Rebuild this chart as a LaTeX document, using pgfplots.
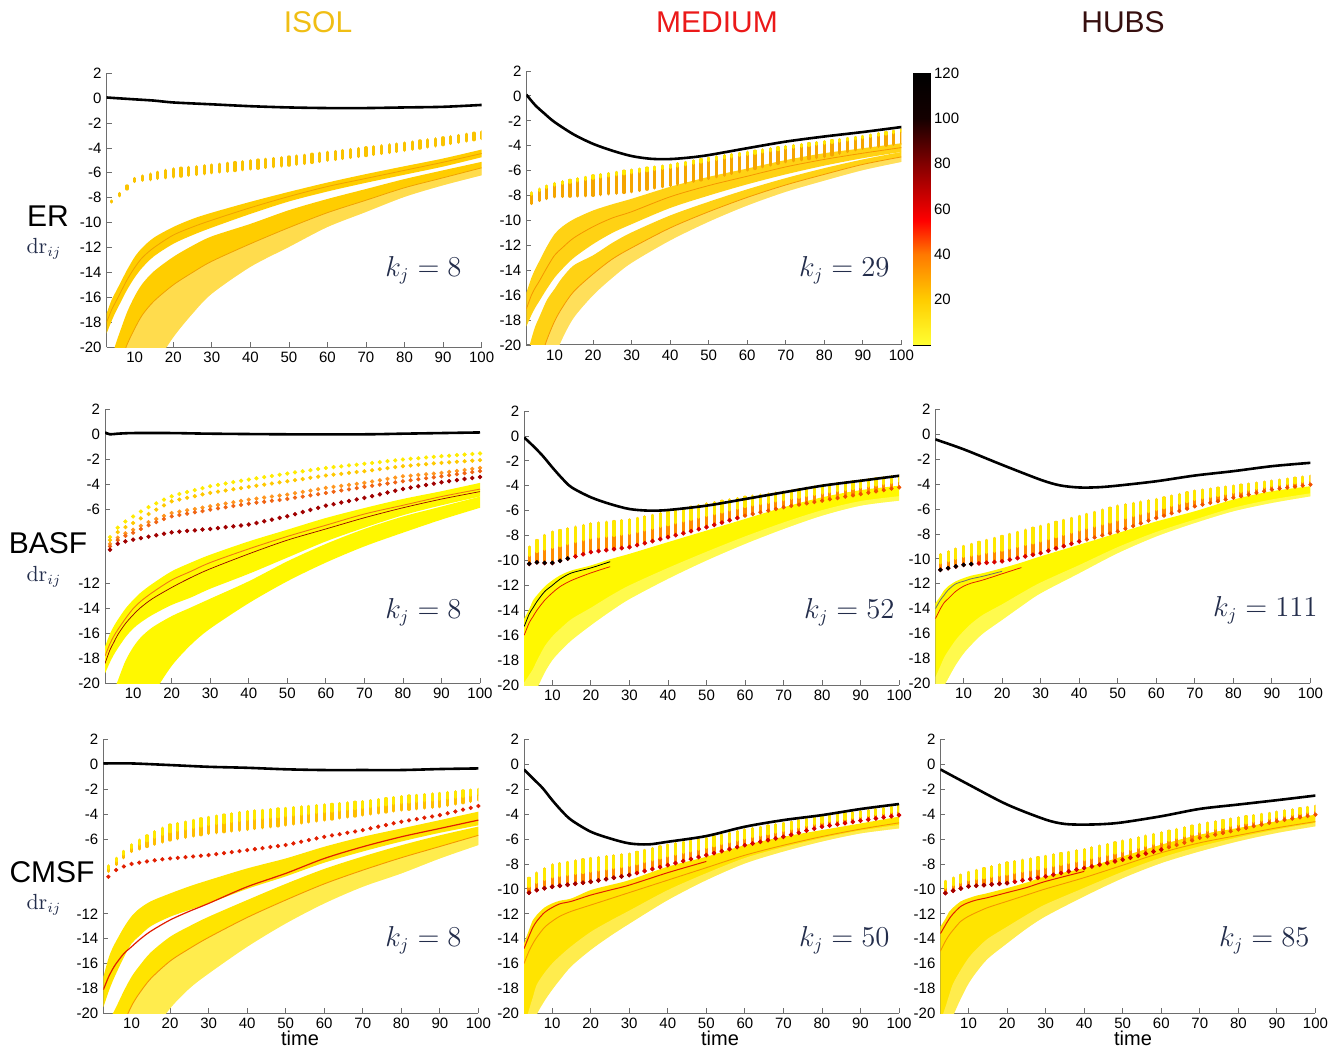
\documentclass[border=0pt]{standalone}
\usepackage[no-math]{fontspec}
\setmainfont{Liberation Sans}
\usepackage{pgfplots}
\pgfplotsset{compat=1.18}
\usepackage{pgfplotstable}
\usepgfplotslibrary{fillbetween}

\definecolor{ttlIsol}{RGB}{240,190,20}
\definecolor{ttlMed}{RGB}{235,25,25}
\definecolor{ttlHubs}{RGB}{55,15,15}
\definecolor{navy}{RGB}{35,45,75}
\definecolor{axgray}{RGB}{110,110,110}
\definecolor{bandA}{RGB}{255,205,0}
\definecolor{lineA}{RGB}{240,160,0}
\definecolor{bandB}{RGB}{255,210,20}
\definecolor{lineB}{RGB}{245,150,0}
\definecolor{bandY}{RGB}{255,248,0}
\definecolor{bandD}{RGB}{255,228,0}
\definecolor{cOr}{RGB}{240,120,20}
\definecolor{cDk}{RGB}{150,0,0}
\definecolor{cRed}{RGB}{225,30,0}
\definecolor{cOr2}{RGB}{245,150,0}
\definecolor{dotA}{RGB}{250,195,0}
\definecolor{dotB}{RGB}{245,165,0}
\definecolor{dotY}{RGB}{255,232,0}
\definecolor{dotO}{RGB}{255,140,0}
\definecolor{dotR}{RGB}{215,0,0}
\definecolor{dotOR}{RGB}{240,80,0}
\definecolor{s1}{RGB}{255,235,0}
\definecolor{s2}{RGB}{255,200,0}
\definecolor{s3}{RGB}{255,150,30}
\definecolor{s4}{RGB}{240,100,20}
\definecolor{s5}{RGB}{160,0,0}
\definecolor{dGold}{RGB}{255,190,0}

\pgfplotsset{
  colormap={hotr}{rgb255(0cm)=(255,255,50) rgb255(2cm)=(255,205,0) rgb255(4cm)=(255,120,0) rgb255(5.5cm)=(255,0,0) rgb255(8cm)=(130,0,0) rgb255(10cm)=(20,0,0) rgb255(12cm)=(0,0,0)},
  pan/.style={scale only axis, width=187.5pt, height=137pt, anchor=south west,
    xmin=2.7, xmax=100, ymin=-20, ymax=2,
    axis x line*=bottom, axis y line*=left,
    axis line style={axgray, line width=0.5pt},
    xtick={10,20,...,100}, ytick={-20,-18,...,2},
    tick align=inside, major tick length=2.5pt,
    tick style={axgray, line width=0.4pt},
    tick label style={font=\fontsize{7.5}{8}\selectfont, black},
    /pgf/number format/assume math mode=true,
    xticklabel style={yshift=1pt}, yticklabel style={xshift=1pt}},
}

\newcommand\myBand[6]{%
  \addplot[name path=#1T, draw=none, smooth, forget plot] table[x=x,y=#3]{#2};
  \addplot[name path=#1B, draw=none, smooth, forget plot] table[x=x,y=#4]{#2};
  \addplot[fill=#5, fill opacity=#6, draw=none, forget plot] fill between[of=#1T and #1B];
}
\newcommand\myLine[4]{\addplot[draw=#3, line width=#4, smooth, forget plot] table[x=x,y=#2]{#1};}
\newcommand\myCols[3]{%
  \addplot[draw=none, mark=none, forget plot, error bars/y dir=minus, error bars/y explicit,
    error bars/error mark=none, error bars/error bar style={draw=#2, solid, line width=1.6pt, line cap=round}]
    table[x=x, y=t, y error minus expr={#3*(\thisrow{t}-\thisrow{b})}]{#1};
}
\newcommand\myKj[3]{\node[anchor=east, inner sep=0pt, text=navy, font=\fontsize{13.5}{14}\selectfont] at (#1pt,#2pt) {$k_j = #3$};}

% ---------------- dotted series ----------------
\pgfplotstableread{
x t b
4 -8.25 -8.35
6 -7.65 -7.85
8 -7.05 -7.3
10 -6.45 -6.7
12 -6.25 -6.6
14 -6.1 -6.55
16 -5.95 -6.45
18 -5.8 -6.4
20 -5.68 -6.33
22 -5.62 -6.27
24 -5.56 -6.2
26 -5.5 -6.14
28 -5.43 -6.07
30 -5.36 -6.0
32 -5.3 -5.94
34 -5.23 -5.88
36 -5.17 -5.82
38 -5.1 -5.76
40 -5.03 -5.7
42 -4.97 -5.64
44 -4.91 -5.58
46 -4.84 -5.51
48 -4.78 -5.45
50 -4.72 -5.39
52 -4.65 -5.32
54 -4.58 -5.25
56 -4.5 -5.17
58 -4.43 -5.09
60 -4.35 -5.0
62 -4.28 -4.93
64 -4.2 -4.86
66 -4.13 -4.78
68 -4.05 -4.7
70 -3.98 -4.62
72 -3.9 -4.54
74 -3.83 -4.46
76 -3.75 -4.38
78 -3.68 -4.29
80 -3.6 -4.2
82 -3.52 -4.11
84 -3.43 -4.02
86 -3.35 -3.93
88 -3.27 -3.84
90 -3.18 -3.75
92 -3.09 -3.65
94 -3.0 -3.55
96 -2.9 -3.45
98 -2.81 -3.35
100 -2.71 -3.25
}\tabDA

\pgfplotstableread{
x t b
4 -7.8 -8.65
6 -7.5 -8.4
8 -7.25 -8.25
10 -7.04 -8.1
12 -6.9 -8.08
14 -6.78 -8.06
16 -6.66 -8.04
18 -6.54 -8.02
20 -6.42 -7.99
22 -6.33 -7.93
24 -6.24 -7.87
26 -6.14 -7.82
28 -6.05 -7.76
30 -5.96 -7.7
32 -5.88 -7.6
34 -5.8 -7.5
36 -5.72 -7.4
38 -5.64 -7.3
40 -5.56 -7.2
42 -5.45 -7.09
44 -5.34 -6.98
46 -5.22 -6.86
48 -5.11 -6.75
50 -5.0 -6.64
52 -4.91 -6.5
54 -4.81 -6.37
56 -4.72 -6.23
58 -4.62 -6.1
60 -4.53 -5.96
62 -4.44 -5.83
64 -4.35 -5.69
66 -4.25 -5.56
68 -4.16 -5.42
70 -4.07 -5.29
72 -3.99 -5.21
74 -3.91 -5.13
76 -3.83 -5.04
78 -3.75 -4.96
80 -3.67 -4.88
82 -3.59 -4.74
84 -3.51 -4.6
86 -3.42 -4.47
88 -3.34 -4.33
90 -3.26 -4.2
92 -3.15 -4.12
94 -3.04 -4.04
96 -2.94 -3.96
98 -2.83 -3.88
100 -2.72 -3.8
}\tabDB

\pgfplotstableread{
x s1 s2 s3 s4 s5
4 -8.25 -8.5 -8.8 -9.0 -9.27
6 -7.5 -7.85 -8.3 -8.5 -8.79
8 -7.0 -7.45 -7.95 -8.15 -8.6
10 -6.6 -7.12 -7.66 -7.9 -8.46
12 -6.2 -6.75 -7.35 -7.6 -8.34
14 -5.85 -6.4 -7.05 -7.3 -8.22
16 -5.55 -6.05 -6.8 -7.05 -8.1
18 -5.25 -5.7 -6.55 -6.8 -7.98
20 -4.98 -5.38 -6.32 -6.59 -7.87
22 -4.8 -5.24 -6.21 -6.48 -7.82
24 -4.64 -5.1 -6.1 -6.37 -7.76
26 -4.48 -4.97 -6.0 -6.26 -7.71
28 -4.32 -4.83 -5.89 -6.16 -7.65
30 -4.17 -4.7 -5.78 -6.05 -7.6
32 -4.06 -4.6 -5.67 -5.95 -7.53
34 -3.95 -4.51 -5.56 -5.86 -7.46
36 -3.84 -4.41 -5.46 -5.76 -7.39
38 -3.73 -4.32 -5.35 -5.67 -7.32
40 -3.63 -4.22 -5.24 -5.57 -7.25
42 -3.53 -4.13 -5.16 -5.49 -7.12
44 -3.44 -4.04 -5.08 -5.42 -6.98
46 -3.34 -3.95 -5.0 -5.34 -6.85
48 -3.25 -3.86 -4.92 -5.27 -6.71
50 -3.15 -3.77 -4.84 -5.19 -6.58
52 -3.06 -3.68 -4.73 -5.09 -6.41
54 -2.97 -3.59 -4.62 -5.0 -6.24
56 -2.88 -3.49 -4.52 -4.9 -6.07
58 -2.79 -3.4 -4.41 -4.81 -5.9
60 -2.7 -3.31 -4.3 -4.71 -5.73
62 -2.63 -3.24 -4.22 -4.61 -5.61
64 -2.57 -3.17 -4.14 -4.51 -5.48
66 -2.5 -3.1 -4.06 -4.42 -5.36
68 -2.44 -3.03 -3.98 -4.32 -5.23
70 -2.37 -2.96 -3.9 -4.22 -5.11
72 -2.3 -2.88 -3.79 -4.13 -4.97
74 -2.23 -2.8 -3.69 -4.04 -4.82
76 -2.16 -2.72 -3.58 -3.95 -4.68
78 -2.09 -2.64 -3.48 -3.86 -4.53
80 -2.02 -2.56 -3.37 -3.77 -4.39
82 -1.97 -2.51 -3.32 -3.69 -4.28
84 -1.92 -2.45 -3.26 -3.61 -4.17
86 -1.86 -2.4 -3.21 -3.53 -4.07
88 -1.81 -2.34 -3.15 -3.45 -3.96
90 -1.76 -2.29 -3.1 -3.37 -3.85
92 -1.72 -2.25 -3.02 -3.29 -3.76
94 -1.67 -2.21 -2.94 -3.21 -3.68
96 -1.63 -2.16 -2.86 -3.12 -3.59
98 -1.58 -2.12 -2.78 -3.04 -3.51
100 -1.54 -2.08 -2.7 -2.96 -3.42
}\tabDC

\pgfplotstableread{
x t b r
4 -8.17 -8.6 -9.03
6 -7.55 -8.05 -8.49
8 -7.0 -7.5 -8.2
10 -6.48 -7.0 -8.0
12 -6.1 -6.8 -7.9
14 -5.75 -6.6 -7.8
16 -5.42 -6.42 -7.71
18 -5.14 -6.25 -7.63
20 -4.88 -6.08 -7.56
22 -4.76 -5.97 -7.51
24 -4.64 -5.87 -7.45
26 -4.51 -5.76 -7.4
28 -4.38 -5.66 -7.34
30 -4.26 -5.55 -7.29
32 -4.17 -5.49 -7.21
34 -4.08 -5.42 -7.13
36 -3.98 -5.36 -7.05
38 -3.89 -5.29 -6.97
40 -3.8 -5.23 -6.89
42 -3.75 -5.16 -6.81
44 -3.7 -5.09 -6.73
46 -3.64 -5.02 -6.64
48 -3.59 -4.95 -6.56
50 -3.54 -4.88 -6.48
52 -3.49 -4.8 -6.35
54 -3.43 -4.72 -6.21
56 -3.38 -4.64 -6.08
58 -3.32 -4.56 -5.95
60 -3.27 -4.48 -5.82
62 -3.22 -4.4 -5.71
64 -3.16 -4.32 -5.61
66 -3.11 -4.24 -5.5
68 -3.05 -4.16 -5.39
70 -3.0 -4.08 -5.28
72 -2.92 -4.0 -5.15
74 -2.84 -3.92 -5.01
76 -2.76 -3.83 -4.88
78 -2.68 -3.75 -4.74
80 -2.6 -3.67 -4.61
82 -2.55 -3.62 -4.5
84 -2.5 -3.57 -4.4
86 -2.44 -3.51 -4.29
88 -2.39 -3.46 -4.19
90 -2.34 -3.41 -4.08
92 -2.27 -3.3 -3.93
94 -2.21 -3.19 -3.79
96 -2.14 -3.09 -3.64
98 -2.08 -2.98 -3.5
100 -2.01 -2.87 -3.35
}\tabDD

\pgfplotstableread{
x t b
4 -8.93 -10.27
6 -8.4 -10.15
8 -8.0 -10.2
10 -7.73 -10.2
12 -7.6 -10.03
14 -7.47 -9.85
16 -7.34 -9.68
18 -7.2 -9.5
20 -7.07 -9.33
22 -7.0 -9.25
24 -6.94 -9.17
26 -6.88 -9.09
28 -6.81 -9.01
30 -6.75 -8.93
32 -6.63 -8.77
34 -6.5 -8.61
36 -6.38 -8.45
38 -6.25 -8.29
40 -6.13 -8.13
42 -6.0 -7.97
44 -5.86 -7.81
46 -5.73 -7.65
48 -5.6 -7.49
50 -5.47 -7.33
52 -5.36 -7.14
54 -5.25 -6.96
56 -5.15 -6.77
58 -5.04 -6.59
60 -4.93 -6.4
62 -4.85 -6.27
64 -4.77 -6.13
66 -4.69 -6.0
68 -4.61 -5.86
70 -4.53 -5.73
72 -4.42 -5.62
74 -4.32 -5.52
76 -4.21 -5.41
78 -4.11 -5.31
80 -4.0 -5.2
82 -3.92 -5.09
84 -3.84 -4.99
86 -3.76 -4.88
88 -3.68 -4.78
90 -3.6 -4.67
92 -3.52 -4.56
94 -3.44 -4.45
96 -3.36 -4.35
98 -3.28 -4.24
100 -3.2 -4.13
}\tabDE

\pgfplotstableread{
x t b
4 -9.67 -10.88
6 -9.45 -10.75
8 -9.22 -10.61
10 -9.0 -10.48
12 -8.84 -10.42
14 -8.68 -10.37
16 -8.52 -10.31
18 -8.36 -10.26
20 -8.2 -10.2
22 -8.04 -10.07
24 -7.88 -9.94
26 -7.71 -9.8
28 -7.55 -9.67
30 -7.39 -9.54
32 -7.23 -9.35
34 -7.07 -9.16
36 -6.91 -8.98
38 -6.75 -8.79
40 -6.59 -8.6
42 -6.43 -8.44
44 -6.27 -8.28
46 -6.1 -8.11
48 -5.94 -7.95
50 -5.78 -7.79
52 -5.67 -7.58
54 -5.56 -7.36
56 -5.46 -7.15
58 -5.35 -6.93
60 -5.24 -6.72
62 -5.11 -6.53
64 -4.97 -6.34
66 -4.84 -6.16
68 -4.7 -5.97
70 -4.57 -5.78
72 -4.49 -5.64
74 -4.41 -5.51
76 -4.33 -5.37
78 -4.25 -5.24
80 -4.17 -5.1
82 -4.09 -4.97
84 -4.01 -4.84
86 -3.93 -4.7
88 -3.85 -4.57
90 -3.77 -4.44
92 -3.69 -4.36
94 -3.61 -4.28
96 -3.53 -4.2
98 -3.45 -4.12
100 -3.37 -4.04
}\tabDF

\pgfplotstableread{
x t b
4 -9.16 -10.31
6 -8.75 -10.1
8 -8.4 -9.95
10 -8.09 -9.83
12 -7.98 -9.75
14 -7.88 -9.67
16 -7.77 -9.59
18 -7.67 -9.51
20 -7.56 -9.43
22 -7.49 -9.32
24 -7.42 -9.22
26 -7.35 -9.11
28 -7.28 -9.0
30 -7.21 -8.89
32 -7.07 -8.73
34 -6.92 -8.57
36 -6.78 -8.41
38 -6.63 -8.25
40 -6.49 -8.09
42 -6.38 -7.93
44 -6.27 -7.77
46 -6.17 -7.61
48 -6.06 -7.45
50 -5.95 -7.29
52 -5.82 -7.13
54 -5.68 -6.97
56 -5.55 -6.81
58 -5.41 -6.65
60 -5.28 -6.49
62 -5.17 -6.36
64 -5.07 -6.22
66 -4.96 -6.09
68 -4.86 -5.95
70 -4.75 -5.82
72 -4.64 -5.66
74 -4.53 -5.5
76 -4.43 -5.33
78 -4.32 -5.17
80 -4.21 -5.01
82 -4.13 -4.91
84 -4.05 -4.82
86 -3.97 -4.72
88 -3.89 -4.63
90 -3.81 -4.53
92 -3.72 -4.44
94 -3.63 -4.35
96 -3.53 -4.26
98 -3.44 -4.17
100 -3.35 -4.08
}\tabDG

\pgfplotstableread{
x t b
4 -9.4 -10.34
6 -9.15 -10.15
8 -8.9 -9.97
10 -8.68 -9.8
12 -8.53 -9.75
14 -8.38 -9.7
16 -8.23 -9.64
18 -8.08 -9.59
20 -7.93 -9.54
22 -7.82 -9.43
24 -7.71 -9.32
26 -7.61 -9.22
28 -7.5 -9.11
30 -7.39 -9.0
32 -7.28 -8.87
34 -7.17 -8.73
36 -7.07 -8.6
38 -6.96 -8.46
40 -6.85 -8.33
42 -6.72 -8.2
44 -6.58 -8.06
46 -6.45 -7.93
48 -6.31 -7.79
50 -6.18 -7.66
52 -6.05 -7.5
54 -5.91 -7.34
56 -5.78 -7.17
58 -5.64 -7.01
60 -5.51 -6.85
62 -5.38 -6.66
64 -5.24 -6.48
66 -5.11 -6.29
68 -4.97 -6.11
70 -4.84 -5.91
72 -4.73 -5.78
74 -4.62 -5.65
76 -4.52 -5.51
78 -4.41 -5.38
80 -4.3 -5.24
82 -4.21 -5.11
84 -4.12 -4.97
86 -4.03 -4.84
88 -3.94 -4.7
90 -3.85 -4.57
92 -3.75 -4.46
94 -3.66 -4.36
96 -3.56 -4.25
98 -3.47 -4.15
100 -3.37 -4.04
}\tabDH

% ---------------- bands of curves ----------------
\pgfplotstableread{
x ut ub lt lb m1 m2
2.7 -17.3 -18.9 -23 -32 -18.0 -25
4 -16.2 -17.9 -21 -31 -17.0 -23.5
5 -15.6 -17.2 -19.8 -30 -16.4 -22.4
6 -15.0 -16.6 -18.9 -29 -15.8 -21.5
8 -13.8 -15.4 -17.2 -27 -14.6 -19.8
10 -12.75 -14.4 -15.9 -25 -13.6 -18.5
12 -12.0 -13.6 -14.9 -23.5 -12.8 -17.4
15 -11.2 -12.7 -13.9 -21.6 -12.0 -16.3
20 -10.35 -11.7 -12.75 -19.2 -11.0 -15.0
25 -9.7 -11.0 -11.85 -17.3 -10.35 -14.0
30 -9.2 -10.4 -11.1 -15.7 -9.8 -13.1
40 -8.33 -9.3 -10.1 -13.55 -8.8 -11.7
50 -7.53 -8.3 -9.0 -11.95 -7.9 -10.4
60 -6.78 -7.5 -8.1 -10.35 -7.1 -9.2
70 -6.1 -6.8 -7.3 -9.14 -6.45 -8.2
80 -5.47 -6.15 -6.5 -7.93 -5.8 -7.2
90 -4.85 -5.5 -5.8 -7.0 -5.15 -6.4
100 -4.13 -4.75 -5.12 -6.2 -4.45 -5.6
}\tabBA

\pgfplotstableread{
x ut ub lt lb m1 m2
2.7 -15.8 -18.5 -21 -28.5 -17.1 -25
4 -14.6 -17.6 -19.5 -27 -16.0 -23.5
5 -13.9 -17.0 -18.5 -26 -15.4 -22.5
6 -13.3 -16.5 -17.8 -24.8 -14.9 -21.5
8 -12.1 -15.5 -16.4 -22.8 -13.8 -19.6
10 -11.1 -14.6 -15.5 -21 -12.8 -18.1
12 -10.5 -13.9 -14.6 -19.5 -12.2 -17.0
15 -9.9 -13.0 -13.6 -17.8 -11.4 -15.7
20 -9.2 -11.9 -12.8 -16.0 -10.5 -14.3
25 -8.7 -11.0 -11.8 -14.6 -9.8 -13.1
30 -8.26 -10.3 -10.96 -13.4 -9.3 -12.2
40 -7.3 -9.0 -9.6 -11.6 -8.1 -10.6
50 -6.5 -8.0 -8.5 -10.1 -7.2 -9.3
60 -5.83 -7.1 -7.5 -8.8 -6.45 -8.15
70 -5.15 -6.3 -6.6 -7.7 -5.7 -7.15
80 -4.6 -5.6 -5.8 -6.8 -5.1 -6.3
90 -4.2 -5.0 -5.1 -5.96 -4.6 -5.5
100 -3.8 -4.5 -4.5 -5.3 -4.15 -4.9
}\tabBB

\pgfplotstableread{
x ut ub lt lb m1 m2
2.7 -17.05 -19.2 -24 -31 -17.8 -18.4
4 -16.0 -18.3 -22 -30 -16.8 -17.3
5 -15.4 -17.7 -20.6 -29 -16.2 -16.7
6 -14.9 -17.2 -19.8 -28 -15.7 -16.1
8 -14.0 -16.3 -18.2 -26 -14.8 -15.2
10 -13.3 -15.6 -17.1 -24.5 -14.0 -14.5
12 -12.7 -15.1 -16.3 -23.0 -13.4 -13.9
15 -12.0 -14.5 -15.5 -21.0 -12.7 -13.2
20 -11.0 -13.7 -14.6 -18.6 -11.7 -12.3
25 -10.3 -13.1 -13.9 -16.9 -11.0 -11.5
30 -9.67 -12.4 -13.2 -15.6 -10.3 -10.8
40 -8.6 -11.2 -11.8 -13.56 -9.2 -9.6
50 -7.66 -9.9 -10.2 -11.8 -8.2 -8.5
60 -6.72 -8.6 -8.8 -10.3 -7.3 -7.6
70 -5.92 -7.5 -7.6 -9.0 -6.4 -6.7
80 -5.19 -6.5 -6.6 -7.9 -5.7 -5.9
90 -4.57 -5.7 -5.8 -6.85 -5.0 -5.2
100 -3.9 -5.0 -5.0 -5.9 -4.4 -4.6
}\tabBC

\pgfplotstableread{
x ut ub lt lb m1 m2
2.7 -17.06 -19.5 -23 -32 -18.1 -26
4 -15.6 -18.3 -21.5 -31 -17.1 -24.5
5 -14.8 -17.5 -20.1 -30 -16.5 -23.5
6 -14.2 -16.8 -19.5 -29 -16.0 -22.5
8 -13.1 -15.5 -18.2 -27 -15.2 -20.8
10 -12.2 -14.4 -17.06 -25.5 -14.65 -19.4
12 -11.6 -13.8 -16.2 -24 -14.1 -18.4
15 -11.0 -13.0 -15.1 -21.8 -13.4 -17.2
20 -10.37 -12.24 -13.85 -19.6 -12.5 -15.8
25 -9.8 -11.7 -13.0 -18.0 -11.8 -14.8
30 -9.3 -11.17 -12.24 -16.8 -11.17 -13.9
40 -8.36 -10.0 -10.9 -14.65 -9.83 -12.3
50 -7.56 -9.0 -9.6 -12.78 -8.76 -10.9
60 -6.62 -7.9 -8.4 -11.17 -7.56 -9.6
70 -5.82 -7.0 -7.4 -9.83 -6.62 -8.5
80 -5.15 -6.2 -6.5 -8.76 -5.82 -7.5
90 -4.48 -5.5 -5.7 -7.56 -5.15 -6.6
100 -3.8 -4.9 -5.0 -6.48 -4.48 -5.7
}\tabBD

\pgfplotstableread{
x t b r k w
2.7 -14.67 -22 -16.0 -15.3 -19.8
4 -13.9 -21.5 -15.0 -14.3 -19.2
5 -13.2 -21 -14.5 -13.8 -18.7
6 -12.8 -20.3 -14.0 -13.3 -18.05
8 -12.1 -19.0 -13.2 -12.5 -16.9
10 -11.6 -18.0 -12.6 -12.0 -16.1
12 -11.2 -17.3 -12.1 -11.5 -15.5
15 -10.8 -16.4 -11.6 -11.0 -14.7
20 -10.4 -15.2 -11.0 -10.6 -13.8
25 -9.9 -14.1 -10.5 -10.1 -12.85
30 -9.47 -13.1 nan nan -12.0
40 -8.53 -11.47 nan nan -10.6
50 -7.6 -10.0 nan nan -9.3
60 -6.67 -8.67 nan nan -8.07
70 -5.73 -7.47 nan nan -6.95
80 -4.93 -6.4 nan nan -5.96
90 -4.35 -5.6 nan nan -5.23
100 -4.0 -5.2 nan nan -4.84
}\tabBE

\pgfplotstableread{
x t b r k w
2.7 -13.56 -22 -14.8 -14.0 -19.5
4 -13.0 -21 -14.0 -13.3 -18.6
5 -12.5 -20.2 -13.5 -12.9 -17.9
6 -12.2 -19.6 -13.2 -12.5 -17.4
8 -11.8 -18.5 -12.6 -12.0 -16.5
10 -11.55 -17.6 -12.2 -11.8 -15.8
12 -11.35 -16.9 -11.95 -11.6 -15.2
15 -11.15 -16.0 -11.7 -11.4 -14.5
20 -10.75 -14.9 -11.2 -11.0 -13.65
25 -10.3 -13.8 -10.7 nan -12.75
30 -9.8 -12.76 nan nan -11.9
40 -8.87 -11.15 nan nan -10.5
50 -7.93 -9.54 nan nan -9.06
60 -7.0 -8.2 nan nan -7.84
70 -6.18 -7.12 nan nan -6.84
80 -5.24 -6.18 nan nan -5.9
90 -4.57 -5.51 nan nan -5.23
100 -4.17 -4.98 nan nan -4.74
}\tabBF

\pgfplotstableread{
x t b r k w
2.7 -14.38 -24 -14.8 -16.0 -21.1
4 -13.3 -22.5 -13.8 -15.0 -19.7
5 -12.5 -21.3 -13.1 -14.4 -18.7
6 -12.1 -20.1 -12.6 -13.9 -17.7
8 -11.5 -19.0 -11.9 -13.1 -16.75
10 -11.17 -18.1 -11.5 -12.6 -16.0
12 -10.95 -17.3 -11.2 -12.2 -15.4
15 -10.77 -16.2 -11.0 -11.8 -14.6
20 -10.1 -14.9 -10.5 -11.3 -13.46
25 -9.7 -13.8 -10.1 -10.8 -12.57
30 -9.3 -12.8 -9.7 -10.3 -11.75
40 -8.22 -10.9 -8.7 -9.3 -10.1
50 -7.42 -9.3 -7.8 -8.3 -8.74
60 -6.49 -7.96 nan -7.3 -7.52
70 -5.82 -7.0 nan -6.5 -6.65
80 -5.28 -6.2 nan -5.8 -5.92
90 -4.75 -5.55 nan -5.2 -5.31
100 -4.2 -5.15 nan -4.7 -4.87
}\tabBG

\pgfplotstableread{
x t b r k w
2.7 -13.03 -24 -13.6 -15.0 -20.7
4 -12.4 -22.5 -12.9 -14.2 -19.5
5 -11.82 -21.3 -12.4 -13.7 -18.5
6 -11.5 -20.2 -12.0 -13.3 -17.6
8 -11.0 -18.8 -11.4 -12.6 -16.5
10 -10.75 -17.6 -11.1 -12.2 -15.55
12 -10.55 -16.7 -10.9 -11.9 -14.85
15 -10.34 -15.6 -10.7 -11.5 -14.0
20 -9.94 -14.37 -10.3 -11.0 -13.04
25 -9.5 -13.2 -9.9 -10.5 -12.1
30 -9.0 -12.2 -9.4 -10.0 -11.24
40 -8.33 -10.6 -8.6 -9.1 -9.92
50 -7.39 -9.14 nan -8.1 -8.62
60 -6.45 -7.93 nan -7.1 -7.49
70 -5.65 -6.99 nan -6.3 -6.59
80 -5.11 -6.18 nan -5.7 -5.86
90 -4.57 -5.51 nan -5.1 -5.23
100 -4.04 -4.98 nan -4.6 -4.7
}\tabBH

\begin{document}
\begin{tikzpicture}

% ===== ER / ISOL =====
\begin{axis}[pan, at={(53.3pt,351.4pt)}]
\myBand{aU}{\tabBA}{ut}{ub}{bandA}{1}
\myBand{aL}{\tabBA}{lt}{lb}{bandA}{1}
\myBand{aW}{\tabBA}{m2}{lb}{white}{0.3}
\myLine{\tabBA}{m1}{lineA}{0.4pt}
\myLine{\tabBA}{m2}{lineA}{0.4pt}
\myCols{\tabDA}{dotA}{1}
\addplot[black, line width=1.3pt, smooth] coordinates {(2.7,0.05)(5,0.0)(10,-0.1)(15,-0.2)(20,-0.35)(30,-0.5)(40,-0.65)(50,-0.75)(60,-0.8)(70,-0.8)(80,-0.75)(90,-0.7)(100,-0.55)};
\end{axis}

% ===== ER / MEDIUM =====
\begin{axis}[pan, at={(263.2pt,352.5pt)}]
\myBand{bU}{\tabBB}{ut}{ub}{bandB}{1}
\myBand{bL}{\tabBB}{lt}{lb}{bandB}{1}
\myBand{bW}{\tabBB}{m2}{lb}{white}{0.3}
\myLine{\tabBB}{m1}{lineB}{0.4pt}
\myLine{\tabBB}{m2}{lineB}{0.4pt}
\myCols{\tabDB}{dotB}{1}
\myCols{\tabDB}{dotY}{0.12}
\addplot[black, line width=1.3pt, smooth] coordinates {(2.7,0.1)(5,-0.75)(7.5,-1.45)(10,-2.1)(15,-3.1)(20,-3.85)(25,-4.4)(30,-4.83)(35,-5.05)(40,-5.07)(45,-4.95)(50,-4.75)(60,-4.2)(70,-3.67)(80,-3.26)(90,-2.9)(100,-2.5)};
\end{axis}

% ===== colour bar =====
\begin{axis}[scale only axis, width=8.5pt, height=136pt, anchor=south west, at={(456.5pt,352.5pt)},
  xmin=0, xmax=1, ymin=0, ymax=120, enlargelimits=false,
  xtick=\empty, ytick={20,40,...,120}, ytick pos=right, yticklabel pos=right,
  tick align=inside, major tick length=2pt, tick style={black, line width=0.4pt},
  axis line style={line width=0.4pt},
  tick label style={font=\fontsize{7.5}{8}\selectfont},
  yticklabel style={xshift=-1.5pt},
  /pgf/number format/assume math mode=true,
  colormap name=hotr, point meta min=0, point meta max=120]
\addplot[surf, shader=interp, point meta=y] coordinates {
(0,0) (1,0)

(0,10) (1,10)

(0,20) (1,20)

(0,30) (1,30)

(0,40) (1,40)

(0,50) (1,50)

(0,60) (1,60)

(0,70) (1,70)

(0,80) (1,80)

(0,90) (1,90)

(0,100) (1,100)

(0,110) (1,110)

(0,120) (1,120)
};
\end{axis}

% ===== BASF / ISOL =====
\begin{axis}[pan, at={(52.5pt,183.3pt)}, ytick={-20,-18,-16,-14,-12,-6,-4,-2,0,2}]
\myBand{cU}{\tabBC}{ut}{ub}{bandY}{1}
\myBand{cL}{\tabBC}{lt}{lb}{bandY}{1}
\myLine{\tabBC}{m1}{cOr}{0.45pt}
\myLine{\tabBC}{m2}{cDk}{0.35pt}
\addplot[only marks, mark=*, mark size=0.85pt, draw=s1, fill=s1] table[x=x,y=s1]{\tabDC};
\addplot[only marks, mark=*, mark size=0.85pt, draw=s2, fill=s2] table[x=x,y=s2]{\tabDC};
\addplot[only marks, mark=*, mark size=0.85pt, draw=s3, fill=s3] table[x=x,y=s3]{\tabDC};
\addplot[only marks, mark=*, mark size=0.85pt, draw=s4, fill=s4] table[x=x,y=s4]{\tabDC};
\addplot[only marks, mark=*, mark size=0.9pt, draw=s5, fill=s5] table[x=x,y=s5]{\tabDC};
\addplot[black, line width=1.3pt, smooth] coordinates {(2.7,0.15)(4,0.0)(6,0.05)(10,0.1)(20,0.1)(30,0.05)(50,0.0)(70,0.0)(80,0.05)(90,0.1)(100,0.15)};
\end{axis}

% ===== BASF / MEDIUM =====
\begin{axis}[pan, at={(262.1pt,182.5pt)}]
\myBand{e}{\tabBE}{t}{b}{bandY}{1}
\myBand{eW}{\tabBE}{w}{b}{white}{0.3}
\myLine{\tabBE}{r}{cRed}{0.4pt}
\myLine{\tabBE}{k}{black}{0.4pt}
\myCols{\tabDE}{dotO}{1}
\myCols{\tabDE}{dotY}{0.5}
\addplot[only marks, mark=*, mark size=0.95pt, draw=dotR, fill=dotR, restrict x to domain=3:58] table[x=x,y=b]{\tabDE};
\addplot[only marks, mark=*, mark size=0.85pt, draw=dotOR, fill=dotOR, restrict x to domain=59:101] table[x=x,y=b]{\tabDE};
\addplot[only marks, mark=*, mark size=0.9pt, black, restrict x to domain=3:14] table[x=x,y=b]{\tabDE};
\addplot[black, line width=1.3pt, smooth] coordinates {(2.7,-0.13)(5,-0.8)(7.5,-1.6)(10,-2.53)(12.5,-3.4)(15,-4.13)(20,-4.93)(25,-5.47)(30,-5.87)(35,-6.0)(40,-5.95)(50,-5.6)(60,-5.07)(70,-4.53)(80,-4.0)(90,-3.6)(100,-3.2)};
\end{axis}

% ===== BASF / HUBS =====
\begin{axis}[pan, at={(467.7pt,183.3pt)}]
\myBand{f}{\tabBF}{t}{b}{bandY}{1}
\myBand{fW}{\tabBF}{w}{b}{white}{0.3}
\myLine{\tabBF}{r}{cRed}{0.4pt}
\myLine{\tabBF}{k}{axgray}{0.4pt}
\myCols{\tabDF}{dotO}{1}
\myCols{\tabDF}{dotY}{0.55}
\addplot[only marks, mark=*, mark size=0.95pt, draw=dotR, fill=dotR, restrict x to domain=3:40] table[x=x,y=b]{\tabDF};
\addplot[only marks, mark=*, mark size=0.85pt, draw=dotOR, fill=dotOR, restrict x to domain=41:101] table[x=x,y=b]{\tabDF};
\addplot[only marks, mark=*, mark size=0.9pt, black, restrict x to domain=3:12] table[x=x,y=b]{\tabDF};
\addplot[black, line width=1.3pt, smooth] coordinates {(2.7,-0.41)(10,-1.2)(20,-2.45)(30,-3.65)(35,-4.1)(40,-4.27)(45,-4.25)(50,-4.12)(60,-3.77)(70,-3.31)(80,-2.96)(90,-2.56)(100,-2.29)};
\end{axis}

% ===== CMSF / ISOL =====
\begin{axis}[pan, at={(51.7pt,18.3pt)}, ytick={-20,-18,-16,-14,-12,-6,-4,-2,0,2}]
\myBand{dU}{\tabBD}{ut}{ub}{bandD}{1}
\myBand{dL}{\tabBD}{lt}{lb}{bandD}{1}
\myBand{dW}{\tabBD}{m2}{lb}{white}{0.3}
\myLine{\tabBD}{m2}{cOr2}{0.45pt}
\myLine{\tabBD}{m1}{cRed}{0.6pt}
\myCols{\tabDD}{dGold}{1}
\myCols{\tabDD}{dotY}{0.45}
\addplot[only marks, mark=*, mark size=0.85pt, draw=cRed, fill=cRed] table[x=x,y=r]{\tabDD};
\addplot[black, line width=1.3pt, smooth] coordinates {(2.7,0.07)(10,0.07)(20,-0.06)(30,-0.2)(40,-0.28)(50,-0.4)(60,-0.46)(70,-0.46)(80,-0.46)(90,-0.38)(100,-0.33)};
\end{axis}

% ===== CMSF / MEDIUM =====
\begin{axis}[pan, at={(262pt,18.3pt)}]
\myBand{g}{\tabBG}{t}{b}{bandD}{1}
\myBand{gW}{\tabBG}{w}{b}{white}{0.3}
\myLine{\tabBG}{k}{cOr2}{0.45pt}
\myLine{\tabBG}{r}{cRed}{0.5pt}
\myCols{\tabDG}{dotO}{1}
\myCols{\tabDG}{dotY}{0.55}
\addplot[only marks, mark=*, mark size=0.95pt, draw=dotR, fill=dotR] table[x=x,y=b]{\tabDG};
\addplot[only marks, mark=*, mark size=0.9pt, draw=s5, fill=s5, restrict x to domain=3:30] table[x=x,y=b]{\tabDG};
\addplot[black, line width=1.3pt, smooth] coordinates {(2.7,-0.41)(5,-1.13)(7.5,-1.9)(10,-2.87)(12.5,-3.75)(15,-4.48)(20,-5.41)(25,-5.95)(30,-6.35)(35,-6.43)(40,-6.22)(50,-5.76)(60,-5.01)(70,-4.48)(80,-4.08)(90,-3.59)(100,-3.19)};
\end{axis}

% ===== CMSF / HUBS =====
\begin{axis}[pan, at={(470.2pt,18.3pt)}]
\myBand{h}{\tabBH}{t}{b}{bandD}{1}
\myBand{hW}{\tabBH}{w}{b}{white}{0.3}
\myLine{\tabBH}{k}{cOr2}{0.45pt}
\myLine{\tabBH}{r}{cRed}{0.5pt}
\myCols{\tabDH}{dotO}{1}
\myCols{\tabDH}{dotY}{0.55}
\addplot[only marks, mark=*, mark size=0.95pt, draw=dotR, fill=dotR, restrict x to domain=3:60] table[x=x,y=b]{\tabDH};
\addplot[only marks, mark=*, mark size=0.85pt, draw=dotOR, fill=dotOR, restrict x to domain=61:101] table[x=x,y=b]{\tabDH};
\addplot[only marks, mark=*, mark size=0.9pt, draw=s5, fill=s5, restrict x to domain=3:20] table[x=x,y=b]{\tabDH};
\addplot[black, line width=1.3pt, smooth] coordinates {(2.7,-0.41)(10,-1.62)(20,-3.23)(30,-4.44)(35,-4.79)(40,-4.84)(45,-4.8)(50,-4.66)(60,-4.17)(70,-3.58)(80,-3.23)(90,-2.88)(100,-2.51)};
\end{axis}

% ---- text outside the axes ----
\node[font=\fontsize{15}{16}\selectfont, text=ttlIsol] at (159pt,514pt) {ISOL};
\node[font=\fontsize{15}{16}\selectfont, text=ttlMed] at (358.5pt,514pt) {MEDIUM};
\node[font=\fontsize{15}{16}\selectfont, text=ttlHubs] at (561.5pt,514pt) {HUBS};
\node[font=\fontsize{15}{16}\selectfont] at (24pt,417pt) {ER};
\node[font=\fontsize{10.5}{11}\selectfont, text=navy] at (22pt,400.5pt) {$\mathrm{dr}_{ij}$};
\node[font=\fontsize{15}{16}\selectfont] at (24pt,253.5pt) {BASF};
\node[font=\fontsize{10.5}{11}\selectfont, text=navy] at (22pt,236.5pt) {$\mathrm{dr}_{ij}$};
\node[font=\fontsize{15}{16}\selectfont] at (26pt,89pt) {CMSF};
\node[font=\fontsize{10.5}{11}\selectfont, text=navy] at (22pt,72.5pt) {$\mathrm{dr}_{ij}$};
\node[font=\fontsize{10}{11}\selectfont] at (150pt,6pt) {time};
\node[font=\fontsize{10}{11}\selectfont] at (360pt,6pt) {time};
\node[font=\fontsize{10}{11}\selectfont] at (566.5pt,6pt) {time};
\myKj{231}{390}{8}
\myKj{445}{390}{29}
\myKj{231}{219}{8}
\myKj{447.5}{219}{52}
\myKj{659}{220}{111}
\myKj{231}{55}{8}
\myKj{445}{55}{50}
\myKj{655}{55}{85}
\path[use as bounding box] (0,0) rectangle (668pt,525pt);
\end{tikzpicture}
\end{document}
